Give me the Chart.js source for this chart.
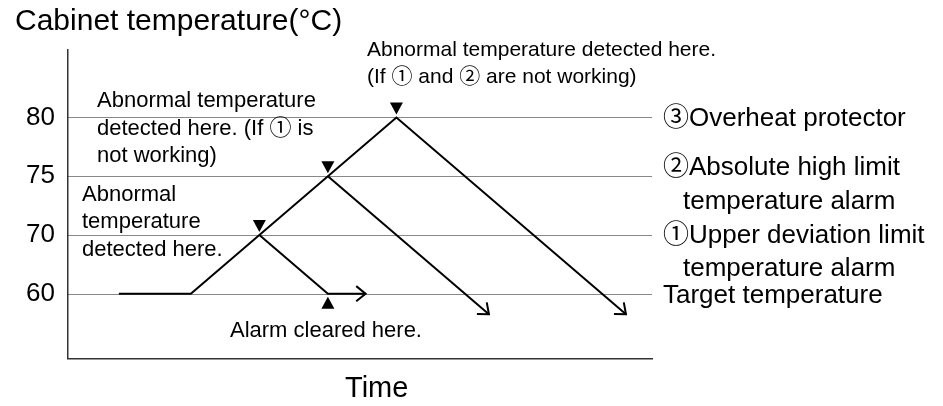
<!DOCTYPE html>
<html>
<head>
<meta charset="utf-8">
<script src="https://cdn.jsdelivr.net/npm/chart.js@4.4.0/dist/chart.umd.min.js"></script>
<style>
  body { margin: 0; background: #fff; }
  #wrap { width: 943px; height: 406px; }
</style>
</head>
<body>
<div id="wrap"><canvas id="myChart"></canvas></div>
<script>
// y levels are evenly spaced in the drawing (not to scale)
const tickLevels = [0, 1, 2, 3];
const tickLabels = ["60", "70", "75", "80"];

// temperature paths (x = time, y = level)
const mainTime = [0.75, 1.8, 4.8, 8.15];
const mainLevel = [0, 0, 3, -0.35];
const alarm2Time = [3.8, 6.15];
const alarm2Level = [2, -0.35];
const alarm1Time = [2.8, 3.8, 4.35];
const alarm1Level = [1, 0, 0];

// where abnormal temperature is detected / alarm cleared
const detectTime = [2.8, 3.8, 4.8];
const detectLevel = [1, 2, 3];
const clearTime = [3.8];
const clearLevel = [0];

const FONT = '"Liberation Sans", Arial, "Noto Sans CJK JP", sans-serif';

// text placed around the plot: [text, x, y, size]
const notes = [
    ["Cabinet temperature(°C)", 15, 30, 30],
    ["Time", 345, 397, 29],
    ["Abnormal temperature detected here.", 367, 56, 21],
    ["(If ① and ② are not working)", 367, 83, 21],
    ["Abnormal temperature", 97, 107, 22],
    ["detected here. (If ① is", 97, 135, 22],
    ["not working)", 97, 162, 22],
    ["Abnormal", 82, 201, 22],
    ["temperature", 82, 228, 22],
    ["detected here.", 82, 256, 22],
    ["Alarm cleared here.", 230, 337, 22],
    ["③Overheat protector", 663, 126, 26],
    ["②Absolute high limit", 663, 175, 26],
    ["temperature alarm", 683, 209, 26],
    ["①Upper deviation limit", 663, 243, 26],
    ["temperature alarm", 683, 276, 26],
    ["Target temperature", 663, 303, 26]
];

function pts(xs, ys) {
    return xs.map((x, i) => ({ x: x, y: ys[i] }));
}

const pathStyle = {
    showLine: true,
    borderColor: "#000",
    borderWidth: 2,
    pointRadius: 0,
    tension: 0,
    fill: false,
    borderJoinStyle: "miter"
};

const diagramPlugin = {
    id: "diagram",
    beforeDatasetsDraw(chart) {
        const { ctx, chartArea, scales } = chart;
        ctx.save();
        ctx.strokeStyle = "#111";
        ctx.lineWidth = 1;
        ctx.setLineDash([1, 1]);
        tickLevels.forEach(v => {
            const y = Math.round(scales.y.getPixelForValue(v)) + 0.5;
            ctx.beginPath();
            ctx.moveTo(chartArea.left + 1, y);
            ctx.lineTo(chartArea.right, y);
            ctx.stroke();
        });
        ctx.restore();
    },
    afterDatasetsDraw(chart) {
        const { ctx, scales } = chart;
        ctx.save();
        // arrow heads on path ends
        ctx.strokeStyle = "#000";
        ctx.lineWidth = 2;
        chart.data.datasets.forEach(ds => {
            if (!ds.arrow) return;
            const n = ds.data.length;
            const a = ds.data[n - 2], b = ds.data[n - 1];
            const x0 = scales.x.getPixelForValue(a.x), y0 = scales.y.getPixelForValue(a.y);
            const x1 = scales.x.getPixelForValue(b.x), y1 = scales.y.getPixelForValue(b.y);
            const ang = Math.atan2(y1 - y0, x1 - x0);
            const len = 12, spread = 0.68;
            ctx.beginPath();
            ctx.moveTo(x1 - len * Math.cos(ang - spread), y1 - len * Math.sin(ang - spread));
            ctx.lineTo(x1, y1);
            ctx.lineTo(x1 - len * Math.cos(ang + spread), y1 - len * Math.sin(ang + spread));
            ctx.stroke();
        });
        // triangle markers
        ctx.fillStyle = "#000";
        const tri = (x, tipY, dir) => {
            ctx.beginPath();
            ctx.moveTo(x, tipY);
            ctx.lineTo(x - 6.5, tipY - dir * 12);
            ctx.lineTo(x + 6.5, tipY - dir * 12);
            ctx.closePath();
            ctx.fill();
        };
        detectTime.forEach((t, i) => {
            tri(scales.x.getPixelForValue(t), scales.y.getPixelForValue(detectLevel[i]) - 3, 1);
        });
        clearTime.forEach((t, i) => {
            tri(scales.x.getPixelForValue(t), scales.y.getPixelForValue(clearLevel[i]) + 3, -1);
        });
        ctx.restore();
    },
    afterDraw(chart) {
        const ctx = chart.ctx;
        ctx.save();
        ctx.fillStyle = "#000";
        ctx.textBaseline = "alphabetic";
        ctx.textAlign = "left";
        notes.forEach(n => {
            ctx.font = n[3] + "px " + FONT;
            ctx.fillText(n[0], n[1], n[2]);
        });
        ctx.restore();
    }
};

const ctx = document.getElementById("myChart").getContext("2d");
new Chart(ctx, {
    type: "scatter",
    data: {
        datasets: [
            Object.assign({ data: pts(mainTime, mainLevel), arrow: true }, pathStyle),
            Object.assign({ data: pts(alarm2Time, alarm2Level), arrow: true }, pathStyle),
            Object.assign({ data: pts(alarm1Time, alarm1Level), arrow: true }, pathStyle)
        ]
    },
    options: {
        responsive: true,
        maintainAspectRatio: false,
        animation: false,
        devicePixelRatio: 1,
        layout: { padding: { top: 50, right: 291, bottom: 0, left: 0 } },
        plugins: { legend: { display: false }, tooltip: { enabled: false } },
        scales: {
            x: {
                type: "linear",
                min: 0,
                max: 8.53,
                grid: { display: false, drawTicks: false },
                border: { display: true, color: "#333", width: 1.5 },
                ticks: { display: false },
                afterFit: s => { s.height = 47.3; }
            },
            y: {
                type: "linear",
                min: -1.107,
                max: 4.149,
                grid: { display: false, drawTicks: false },
                border: { display: true, color: "#333", width: 1.5 },
                afterBuildTicks: s => { s.ticks = tickLevels.map(v => ({ value: v })); },
                ticks: {
                    color: "#000",
                    padding: 12.5,
                    font: { family: FONT, size: 26 },
                    callback: v => tickLabels[tickLevels.indexOf(v)]
                },
                afterFit: s => { s.width = 67.5; }
            }
        }
    },
    plugins: [diagramPlugin]
});
</script>
</body>
</html>
